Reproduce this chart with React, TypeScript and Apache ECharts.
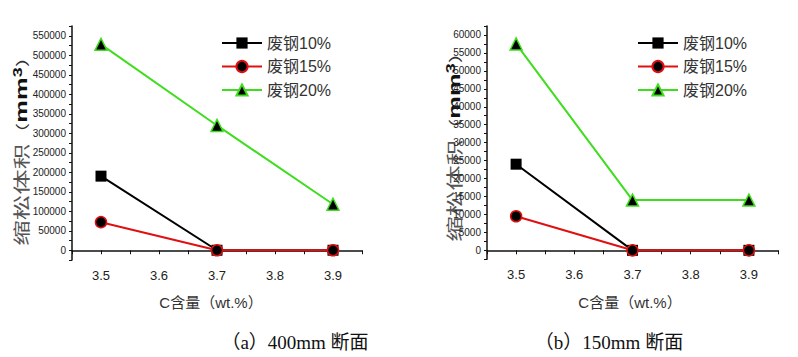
import React, { useEffect, useRef } from "react";
import * as echarts from "echarts";

const cContent = [3.5, 3.7, 3.9];
const xTickLabels = [3.5, 3.6, 3.7, 3.8, 3.9];
const seriesNames = ["废钢10%", "废钢15%", "废钢20%"];

const a10 = [190000, 0, 0];
const a15 = [72000, 0, 0];
const a20 = [528000, 320000, 118000];
const yTickLabelsA = [0, 50000, 100000, 150000, 200000, 250000, 300000, 350000, 400000, 450000, 500000, 550000];

const b10 = [24000, 0, 0];
const b15 = [9500, 0, 0];
const b20 = [57500, 14000, 14000];
const yTickLabelsB = [0, 5000, 10000, 15000, 20000, 25000, 30000, 35000, 40000, 45000, 50000, 55000, 60000];

const captions = ["（a）400mm 断面", "（b）150mm 断面"];
const xName = "C含量（wt.%）";

const SANS = "Liberation Sans, Arial, Noto Sans CJK SC, sans-serif";
const CJK = "Noto Sans CJK SC, sans-serif";
const RED = "#e01010";
const GREEN = "#3ede1e";

function pairs(vals: number[]) {
  return cContent.map((x, i) => [x, vals[i]]);
}

function makeSeries(idx: number, v10: number[], v15: number[], v20: number[]) {
  return [
    {
      name: seriesNames[0], type: "line", xAxisIndex: idx, yAxisIndex: idx,
      data: pairs(v10), symbol: "rect", symbolSize: 11,
      lineStyle: { color: "#000", width: 2 },
      itemStyle: { color: "#000" },
    },
    {
      name: seriesNames[1], type: "line", xAxisIndex: idx, yAxisIndex: idx,
      data: pairs(v15), symbol: "circle", symbolSize: 11,
      lineStyle: { color: RED, width: 2 },
      itemStyle: { color: "#000", borderColor: RED, borderWidth: 1.5 },
    },
    {
      name: seriesNames[2], type: "line", xAxisIndex: idx, yAxisIndex: idx,
      data: pairs(v20), symbol: "triangle", symbolSize: 12,
      lineStyle: { color: GREEN, width: 2 },
      itemStyle: { color: "#000", borderColor: GREEN, borderWidth: 1.5 },
    },
  ];
}

function xAxis(idx: number) {
  return {
    type: "value", gridIndex: idx, min: 3.45, max: 3.95, interval: 0.05,
    axisLine: { show: true, lineStyle: { color: "#111", width: 1.5 } },
    axisTick: { show: true, inside: false, length: 4, lineStyle: { color: "#111", width: 1 } },
    splitLine: { show: false },
    axisLabel: {
      margin: 9, fontSize: 13, color: "#222", fontFamily: SANS,
      formatter: (v: number) => (xTickLabels.some((t) => Math.abs(t - v) < 1e-6) ? v.toFixed(1) : ""),
    },
  };
}

function yAxis(idx: number, min: number, max: number, interval: number, ticks: number[]) {
  return {
    type: "value", gridIndex: idx, min, max, interval,
    axisLine: { show: true, lineStyle: { color: "#111", width: 1.5 } },
    axisTick: { show: true, inside: false, length: 3, lineStyle: { color: "#111", width: 1 } },
    splitLine: { show: false },
    axisLabel: {
      margin: 6, fontSize: 10, color: "#222", fontFamily: SANS,
      formatter: (v: number) => (ticks.includes(Math.round(v)) ? String(Math.round(v)) : ""),
    },
  };
}

function legend(left: number) {
  return {
    orient: "vertical", left, top: 35, data: seriesNames, padding: 0,
    itemWidth: 40, itemHeight: 14, itemGap: 7.5, itemTextGap: 5,
    textStyle: { fontSize: 16, color: "#333", fontFamily: SANS, lineHeight: 14, height: 14 },
  };
}

function yName(x: number, y: number) {
  return {
    type: "text", x, y, rotation: Math.PI / 2, scaleX: 1.5,
    style: {
      text: "{cn|缩松体积}{p|（}{mm|mm}{sup|3}{p|）}",
      align: "center", verticalAlign: "middle",
      rich: {
        cn: { fontSize: 17, fontFamily: CJK, fill: "#555", lineHeight: 18 },
        p: { fontSize: 14, fontFamily: CJK, fill: "#333", lineHeight: 18 },
        mm: { fontSize: 17, fontFamily: SANS, fontWeight: "bold", fill: "#111", lineHeight: 18 },
        sup: { fontSize: 12, fontFamily: SANS, fontWeight: "bold", fill: "#111", verticalAlign: "top", lineHeight: 18, padding: [0, 0, 6, 0] },
      },
    },
  };
}

function textEl(x: number, y: number, text: string, fontSize: number, fontFamily: string, fill: string) {
  return {
    type: "text", x, y,
    style: { text, fontSize, fontFamily, fill, align: "center", verticalAlign: "middle" },
  };
}

export default function App() {
  const ref = useRef<HTMLDivElement>(null);
  useEffect(() => {
    document.body.style.margin = "0";
    const chart = echarts.init(ref.current!, undefined, { renderer: "svg" });
    chart.setOption({
      animation: false,
      backgroundColor: "#fff",
      grid: [
        { left: 72, top: 26, width: 290, height: 234 },
        { left: 487, top: 26, width: 291, height: 233.3 },
      ],
      xAxis: [xAxis(0), xAxis(1)],
      yAxis: [
        yAxis(0, -25000, 575000, 25000, yTickLabelsA),
        yAxis(1, -2500, 62500, 2500, yTickLabelsB),
      ],
      legend: [legend(221), legend(637)],
      series: [...makeSeries(0, a10, a15, a20), ...makeSeries(1, b10, b15, b20)],
      graphic: [
        yName(21, 146),
        yName(454, 142),
        textEl(211, 302, xName, 15, SANS, "#333"),
        textEl(630, 302, xName, 15, SANS, "#333"),
        textEl(295, 342, captions[0], 19, "Liberation Serif, Noto Sans CJK SC, serif", "#111"),
        textEl(609, 342, captions[1], 19, "Liberation Serif, Noto Sans CJK SC, serif", "#111"),
      ],
    });
    return () => chart.dispose();
  }, []);
  return <div ref={ref} style={{ width: 798, height: 357 }} />;
}
